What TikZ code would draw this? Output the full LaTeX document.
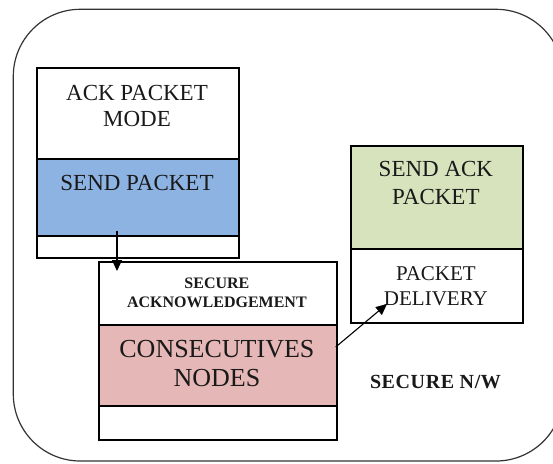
\documentclass[tikz,border=0pt]{standalone}
\usepackage{fontspec}
\setmainfont{Liberation Serif}
\usetikzlibrary{arrows.meta}
\definecolor{sendblue}{HTML}{8DB3E2}
\definecolor{conspink}{HTML}{E5B8B7}
\definecolor{ackgreen}{HTML}{D6E3BC}
\tikzset{
  sect/.style={draw=black, line width=1.8pt, inner sep=0pt, minimum width=#1, anchor=north west},
  lbl/.style={inner sep=0pt, align=center, text=black!90},
  conn/.style={line width=1.1pt, -{Triangle[length=11pt,width=10pt]}},
}
\begin{document}
\begin{tikzpicture}[x=1pt,y=-1pt]
\useasboundingbox (0,0) rectangle (553,463);
\begin{scope}
\clip (0,0) rectangle (553,463);
\draw[line width=1.2pt, black!80, rounded corners=67pt] (13.3,9.3) rectangle (563,461);
\end{scope}
% box 1
\node[sect=202pt, minimum height=90.7pt] (t1) at (36,67) {};
\node[sect=202pt, minimum height=77.3pt, fill=sendblue] (s1) at (36,157.7) {};
\node[sect=202pt, minimum height=22pt] (b1) at (36,235) {};
% box 2
\node[sect=237.7pt, minimum height=63.3pt] (t2) at (98,260.7) {};
\node[sect=237.7pt, minimum height=81pt, fill=conspink] (m2) at (98,324) {};
\node[sect=237.7pt, minimum height=34pt] (b2) at (98,405) {};
% box 3
\node[sect=171.7pt, minimum height=103pt, fill=ackgreen] (t3) at (350,145) {};
\node[sect=171.7pt, minimum height=73.7pt] (m3) at (350,248) {};
% texts
\node[lbl, font=\rmfamily\fontsize{23}{26}\selectfont] (l1) at (137,105.9) {ACK PACKET\\MODE};
\node[lbl, font=\rmfamily\fontsize{23}{26}\selectfont] (l2) at (137,182.5) {SEND PACKET};
\node[lbl, font=\rmfamily\fontsize{16}{19}\selectfont\bfseries] (l3) at (216.9,293) {SECURE\\ACKNOWLEDGEMENT};
\node[lbl, font=\rmfamily\fontsize{26}{29}\selectfont] (l4) at (216.9,363.9) {CONSECUTIVES\\NODES};
\node[lbl, font=\rmfamily\fontsize{23}{28.3}\selectfont] (l5) at (435.9,183.3) {SEND ACK\\PACKET};
\node[lbl, font=\rmfamily\fontsize{21}{25}\selectfont] (l6) at (435.9,285.8) {PACKET\\DELIVERY};
\node[lbl, font=\rmfamily\fontsize{20}{22}\selectfont\bfseries\addfontfeatures{LetterSpace=3}] (l7) at (435.5,381.7) {SECURE N/W};
% connectors
\coordinate (a1s) at (117,230.7);
\coordinate (a1e) at (117,271);
\coordinate (a2s) at (335.7,347);
\coordinate (a2e) at (387,304);
\draw[conn] (a1s) -- (a1e);
\draw[conn] (a2s) -- (a2e);
\end{tikzpicture}
\end{document}
